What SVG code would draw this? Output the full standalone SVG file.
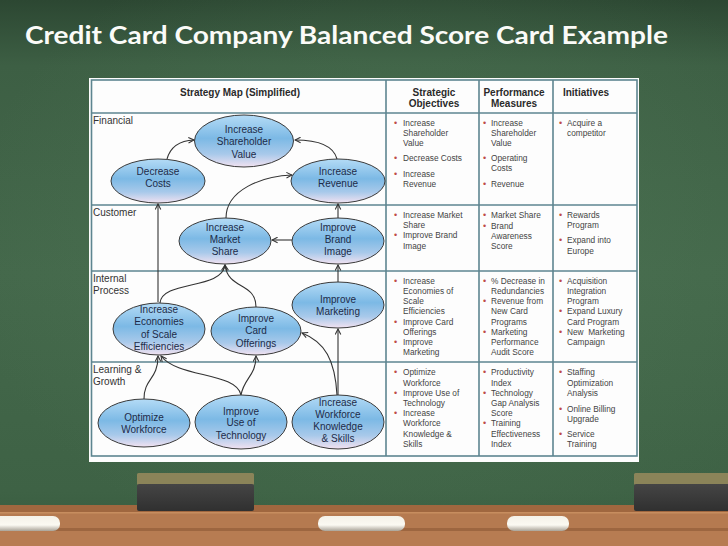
<svg xmlns="http://www.w3.org/2000/svg" width="728" height="546" viewBox="0 0 728 546">
<defs>
<linearGradient id="board" x1="0" y1="0" x2="0" y2="1">
<stop offset="0" stop-color="#2c4732"/>
<stop offset="0.12" stop-color="#3d5f44"/>
<stop offset="0.5" stop-color="#44684b"/>
<stop offset="0.9" stop-color="#3e6245"/>
<stop offset="1" stop-color="#365a3d"/>
</linearGradient>
<radialGradient id="glow" cx="0.55" cy="0.45" r="0.6">
<stop offset="0" stop-color="#507a57" stop-opacity="0.55"/>
<stop offset="1" stop-color="#507a57" stop-opacity="0"/>
</radialGradient>
<linearGradient id="eg" x1="0" y1="0" x2="0" y2="1">
<stop offset="0" stop-color="#b4dbf6"/>
<stop offset="0.45" stop-color="#7cb9e5"/>
<stop offset="0.75" stop-color="#a8c9ea"/>
<stop offset="1" stop-color="#f2e2f1"/>
</linearGradient>
<linearGradient id="chalk" x1="0" y1="0" x2="0" y2="1">
<stop offset="0" stop-color="#f4f1e8"/>
<stop offset="0.6" stop-color="#fbf9f2"/>
<stop offset="1" stop-color="#a9a398"/>
</linearGradient>
<linearGradient id="eraser" x1="0" y1="0" x2="0" y2="1">
<stop offset="0" stop-color="#454545"/>
<stop offset="1" stop-color="#303030"/>
</linearGradient>
<marker id="arr" viewBox="0 0 10 10" refX="9" refY="5" markerWidth="7" markerHeight="7" markerUnits="userSpaceOnUse" orient="auto">
<path d="M1,1 L9,5 L1,9" fill="none" stroke="#333" stroke-width="1.5"/>
</marker>
<style>
.node ellipse{fill:url(#eg);stroke:#3a3a3a;stroke-width:1}
.node text{font-family:"Liberation Sans",Arial,sans-serif;font-size:10px;fill:#1d2b48;text-anchor:middle}
.conn path{fill:none;stroke:#333;stroke-width:1.1;marker-end:url(#arr)}
.grid line,.grid rect{stroke:#5d8590;stroke-width:1.6;fill:none}
.hdr{font-family:"Liberation Sans",Arial,sans-serif;font-size:10px;font-weight:bold;fill:#2a2a2a;text-anchor:middle}
.lbl{font-family:"Liberation Sans",Arial,sans-serif;font-size:10px;fill:#333}
.cell{font-family:"Liberation Sans",Arial,sans-serif;font-size:8.3px;fill:#444}
.b{fill:#bf4a48;font-size:9px}
</style>
</defs>

<g id="background">
<rect x="0" y="0" width="728" height="546" fill="url(#board)"/>
<rect x="0" y="0" width="728" height="546" fill="url(#glow)"/>
<g id="tray">
<rect x="0" y="505" width="728" height="41" fill="#b57a50"/>
<rect x="0" y="505" width="728" height="7" fill="#a0673f"/>
<rect x="0" y="512" width="728" height="1.5" fill="#c78d5f"/>
<rect x="0" y="528" width="728" height="3" fill="#9d6640"/>
<rect x="0" y="531" width="728" height="15" fill="#b77c52"/>
</g>
<g id="eraser-left">
<rect x="137" y="473" width="117" height="12" rx="1.5" fill="#8b8459"/>
<rect x="137" y="484" width="117" height="27" rx="2" fill="url(#eraser)"/>
</g>
<g id="eraser-right">
<rect x="634" y="473" width="100" height="12" rx="1.5" fill="#8b8459"/>
<rect x="634" y="484" width="100" height="27" rx="2" fill="url(#eraser)"/>
</g>
<g id="chalks">
<rect x="-12" y="516" width="72" height="15" rx="7" fill="url(#chalk)"/>
<rect x="318" y="516" width="87" height="15" rx="7" fill="url(#chalk)"/>
<rect x="507" y="516" width="62" height="15" rx="7" fill="url(#chalk)"/>
</g>
</g>

<text id="title" x="25" y="44" textLength="643" lengthAdjust="spacingAndGlyphs" font-family="Lato, 'Liberation Sans', sans-serif" font-weight="bold" font-size="25" fill="#fbfbf8">Credit Card Company Balanced Score Card Example</text>

<g id="panel">
<rect x="89" y="78" width="550" height="384" fill="#fdfdfd"/>
<g class="grid">
<rect x="91.5" y="80" width="545.5" height="376"/>
<line x1="91.5" y1="113" x2="637" y2="113"/>
<line x1="91.5" y1="205" x2="637" y2="205"/>
<line x1="91.5" y1="271" x2="637" y2="271"/>
<line x1="91.5" y1="362" x2="637" y2="362"/>
<line x1="386" y1="80" x2="386" y2="456"/>
<line x1="479" y1="80" x2="479" y2="456"/>
<line x1="553" y1="80" x2="553" y2="456"/>
</g>
<text class="hdr" x="240" y="96">Strategy Map (Simplified)</text>
<text class="hdr" x="434" y="96">Strategic</text>
<text class="hdr" x="434" y="107">Objectives</text>
<text class="hdr" x="514" y="96">Performance</text>
<text class="hdr" x="514" y="107">Measures</text>
<text class="hdr" x="586" y="96">Initiatives</text>
<text class="lbl" x="93" y="124">Financial</text>
<text class="lbl" x="93" y="216">Customer</text>
<text class="lbl" x="93" y="282">Internal</text>
<text class="lbl" x="93" y="294">Process</text>
<text class="lbl" x="93" y="373">Learning &amp;</text>
<text class="lbl" x="93" y="385">Growth</text>
</g>

<g id="connectors" class="conn">
<path d="M167,159 Q172,141 194,140"/>
<path d="M337,159 Q332,140 295,140"/>
<path d="M226,218 C226,190 262,176 292,175"/>
<path d="M158,302 L158,204"/>
<path d="M338,218 L338,204"/>
<path d="M292,240 L272,240"/>
<path d="M338,282 L338,265"/>
<path d="M160,303 C162,280 222,290 225,265"/>
<path d="M256,307 C256,282 228,290 225,265"/>
<path d="M144,399 C144,378 158,380 158,356"/>
<path d="M241,395 C236,372 178,378 161,356"/>
<path d="M241,395 C244,378 256,376 256,356"/>
<path d="M337,395 C335,360 325,342 302,333"/>
<path d="M338,395 L338,329"/>
</g>

<g id="n-shareholder" class="node"><ellipse cx="244" cy="141" rx="49.5" ry="26"/><text x="244" y="132.5">Increase<tspan x="244" dy="12.5">Shareholder</tspan><tspan x="244" dy="12.5">Value</tspan></text></g>
<g id="n-costs" class="node"><ellipse cx="158" cy="181" rx="47" ry="22"/><text x="158" y="174.5">Decrease<tspan x="158" dy="12.5">Costs</tspan></text></g>
<g id="n-revenue" class="node"><ellipse cx="338" cy="181" rx="47" ry="22"/><text x="338" y="174.5">Increase<tspan x="338" dy="12.5">Revenue</tspan></text></g>
<g id="n-market" class="node"><ellipse cx="225" cy="241" rx="46" ry="23"/><text x="225" y="230.5">Increase<tspan x="225" dy="12">Market</tspan><tspan x="225" dy="12.5">Share</tspan></text></g>
<g id="n-brand" class="node"><ellipse cx="338" cy="241" rx="46" ry="23"/><text x="338" y="230.5">Improve<tspan x="338" dy="12">Brand</tspan><tspan x="338" dy="12.5">Image</tspan></text></g>
<g id="n-marketing" class="node"><ellipse cx="338" cy="305" rx="46" ry="23"/><text x="338" y="302.5">Improve<tspan x="338" dy="12">Marketing</tspan></text></g>
<g id="n-economies" class="node"><ellipse cx="159" cy="329" rx="46" ry="26"/><text x="159" y="312.5">Increase<tspan x="159" dy="12.5">Economies</tspan><tspan x="159" dy="12.5">of Scale</tspan><tspan x="159" dy="12.5">Efficiencies</tspan></text></g>
<g id="n-card" class="node"><ellipse cx="256" cy="331" rx="45" ry="24"/><text x="256" y="321.5">Improve<tspan x="256" dy="12.5">Card</tspan><tspan x="256" dy="12.5">Offerings</tspan></text></g>
<g id="n-workforce" class="node"><ellipse cx="144" cy="423" rx="46" ry="24"/><text x="144" y="420.5">Optimize<tspan x="144" dy="12.5">Workforce</tspan></text></g>
<g id="n-technology" class="node"><ellipse cx="241" cy="422" rx="46" ry="27"/><text x="241" y="414.5">Improve<tspan x="241" dy="11.5">Use of</tspan><tspan x="241" dy="12.5">Technology</tspan></text></g>
<g id="n-knowledge" class="node"><ellipse cx="338" cy="422" rx="46" ry="27"/><text x="338" y="405.5">Increase<tspan x="338" dy="12">Workforce</tspan><tspan x="338" dy="12.5">Knowledge</tspan><tspan x="338" dy="12">&amp; Skills</tspan></text></g>

<g id="table-financial" class="cell">
<text x="394" y="126" class="b">•</text><text x="403" y="126">Increase</text><text x="403" y="136">Shareholder</text><text x="403" y="146">Value</text>
<text x="394" y="161" class="b">•</text><text x="403" y="161">Decrease Costs</text>
<text x="394" y="177" class="b">•</text><text x="403" y="177">Increase</text><text x="403" y="187">Revenue</text>
<text x="483" y="126" class="b">•</text><text x="491" y="126">Increase</text><text x="491" y="136">Shareholder</text><text x="491" y="146">Value</text>
<text x="483" y="161" class="b">•</text><text x="491" y="161">Operating</text><text x="491" y="171">Costs</text>
<text x="483" y="187" class="b">•</text><text x="491" y="187">Revenue</text>
<text x="559" y="126" class="b">•</text><text x="567" y="126">Acquire a</text><text x="567" y="136">competitor</text>
</g>

<g id="table-customer" class="cell">
<text x="394" y="218" class="b">•</text><text x="403" y="218">Increase Market</text><text x="403" y="228">Share</text>
<text x="394" y="238" class="b">•</text><text x="403" y="238">Improve Brand</text><text x="403" y="249">Image</text>
<text x="483" y="218" class="b">•</text><text x="491" y="218">Market Share</text>
<text x="483" y="229" class="b">•</text><text x="491" y="229">Brand</text><text x="491" y="239">Awareness</text><text x="491" y="249">Score</text>
<text x="559" y="218" class="b">•</text><text x="567" y="218">Rewards</text><text x="567" y="228">Program</text>
<text x="559" y="243" class="b">•</text><text x="567" y="243">Expand into</text><text x="567" y="254">Europe</text>
</g>

<g id="table-internal" class="cell">
<text x="394" y="284" class="b">•</text><text x="403" y="284">Increase</text><text x="403" y="294">Economies of</text><text x="403" y="304">Scale</text><text x="403" y="314">Efficiencies</text>
<text x="394" y="325" class="b">•</text><text x="403" y="325">Improve Card</text><text x="403" y="335">Offerings</text>
<text x="394" y="345" class="b">•</text><text x="403" y="345">Improve</text><text x="403" y="355">Marketing</text>
<text x="483" y="284" class="b">•</text><text x="491" y="284">% Decrease in</text><text x="491" y="294">Redundancies</text>
<text x="483" y="304" class="b">•</text><text x="491" y="304">Revenue from</text><text x="491" y="314">New Card</text><text x="491" y="325">Programs</text>
<text x="483" y="335" class="b">•</text><text x="491" y="335">Marketing</text><text x="491" y="345">Performance</text><text x="491" y="355">Audit Score</text>
<text x="559" y="284" class="b">•</text><text x="567" y="284">Acquisition</text><text x="567" y="294">Integration</text><text x="567" y="304">Program</text>
<text x="559" y="314" class="b">•</text><text x="567" y="314">Expand Luxury</text><text x="567" y="325">Card Program</text>
<text x="559" y="335" class="b">•</text><text x="567" y="335" xml:space="preserve">New  Marketing</text><text x="567" y="345">Campaign</text>
</g>

<g id="table-learning" class="cell">
<text x="394" y="375" class="b">•</text><text x="403" y="375">Optimize</text><text x="403" y="386">Workforce</text>
<text x="394" y="396" class="b">•</text><text x="403" y="396">Improve Use of</text><text x="403" y="406">Technology</text>
<text x="394" y="416" class="b">•</text><text x="403" y="416">Increase</text><text x="403" y="426">Workforce</text><text x="403" y="437">Knowledge &amp;</text><text x="403" y="447">Skills</text>
<text x="483" y="375" class="b">•</text><text x="491" y="375">Productivity</text><text x="491" y="386">Index</text>
<text x="483" y="396" class="b">•</text><text x="491" y="396">Technology</text><text x="491" y="406">Gap Analysis</text><text x="491" y="416">Score</text>
<text x="483" y="426" class="b">•</text><text x="491" y="426">Training</text><text x="491" y="437">Effectiveness</text><text x="491" y="447">Index</text>
<text x="559" y="375" class="b">•</text><text x="567" y="375">Staffing</text><text x="567" y="386">Optimization</text><text x="567" y="396">Analysis</text>
<text x="559" y="412" class="b">•</text><text x="567" y="412">Online Billing</text><text x="567" y="422">Upgrade</text>
<text x="559" y="437" class="b">•</text><text x="567" y="437">Service</text><text x="567" y="447">Training</text>
</g>
</svg>
